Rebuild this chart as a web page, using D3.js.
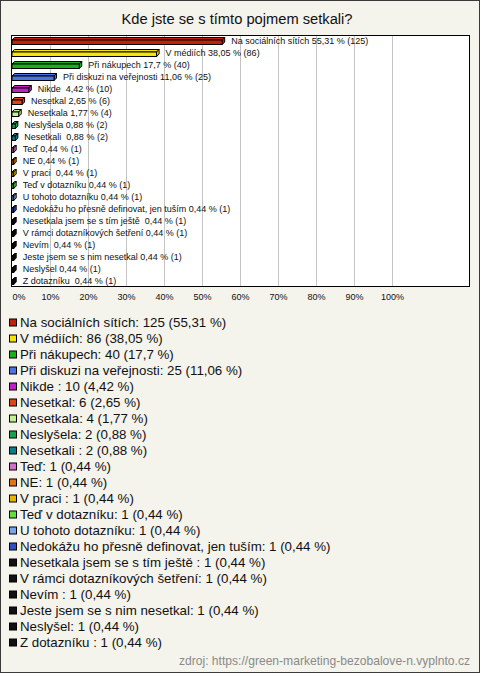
<!DOCTYPE html>
<html><head><meta charset="utf-8">
<script src="https://cdn.jsdelivr.net/npm/d3@7"></script>
<style>body{margin:0;background:#fff}svg{display:block}text{white-space:pre}</style>
</head><body>
<script>
const title = "Kde jste se s tímto pojmem setkali?";
const categories = ["Na sociálních sítích","V médiích","Při nákupech","Při diskuzi na veřejnosti","Nikde ","Nesetkal","Nesetkala","Neslyšela","Nesetkali ","Teď","NE","V praci ","Teď v dotazníku","U tohoto dotazníku","Nedokážu ho přesně definovat, jen tuším","Nesetkala jsem se s tím ještě ","V rámci dotazníkových šetření","Nevím ","Jeste jsem se s nim nesetkal","Neslyšel","Z dotazníku "];
const counts = [125,86,40,25,10,6,4,2,2,1,1,1,1,1,1,1,1,1,1,1,1];
const percents = [55.31,38.05,17.7,11.06,4.42,2.65,1.77,0.88,0.88,0.44,0.44,0.44,0.44,0.44,0.44,0.44,0.44,0.44,0.44,0.44,0.44];
const colors = ["#c0200c","#f8e400","#18b018","#4a74e0","#c020c8","#e04414","#c4f094","#18a050","#107c88","#d070c8","#e07418","#e8b400","#60e040","#78a4e8","#3050c0","#111","#111","#111","#111","#111","#111"];
const xTicks = [0,10,20,30,40,50,60,70,80,90,100];
const source = "zdroj: https://green-marketing-bezobalove-n.vyplnto.cz";

const W=480,H=673;
const fmt = v => String(v).replace(".", ",");
const svg = d3.select("body").append("svg").attr("width",W).attr("height",H)
  .style("font-family","'Liberation Sans', Arial, sans-serif");
svg.append("rect").attr("x",0.5).attr("y",0.5).attr("width",W-1).attr("height",H-1)
  .attr("fill","#f4f3ec").attr("stroke","#3a3a3a");

svg.append("text").attr("x",237).attr("y",24).attr("text-anchor","middle")
  .attr("font-size",14.7).attr("fill","#111").text(title);

const x = d3.scaleLinear().domain([0,100]).range([12,392]);
const y = d3.scaleBand().domain(d3.range(categories.length)).range([35,287]);
const plotL=11, plotR=470, plotT=35, plotB=287;

svg.append("rect").attr("x",plotL+0.5).attr("y",plotT+0.5).attr("width",plotR-plotL-1).attr("height",plotB-plotT-1)
  .attr("fill","#fff");
svg.append("g").selectAll("line").data(xTicks.filter(t=>t>0)).join("line")
  .attr("x1",d=>Math.round(x(d))+0.5).attr("x2",d=>Math.round(x(d))+0.5)
  .attr("y1",plotT).attr("y2",plotB).attr("stroke","#c4c4c4");
svg.append("rect").attr("x",plotL+0.5).attr("y",plotT+0.5).attr("width",plotR-plotL-1).attr("height",plotB-plotT-1)
  .attr("fill","none").attr("stroke","#000");

const dep=2.5;
const bars = svg.append("g").selectAll("g").data(percents).join("g");
bars.each(function(v,i){
  const g=d3.select(this);
  const c=y(i)+y.bandwidth()/2;
  const x0=x(0), x1=x(v);
  const top=c-1, bot=c+3.5;
  g.append("path").attr("d",`M${x0},${top}L${x0+dep},${top-dep}L${x1+dep},${top-dep}L${x1},${top}Z`)
    .attr("fill",colors[i]).attr("stroke","#000").attr("stroke-width",1);
  g.append("path").attr("d",`M${x1},${top}L${x1+dep},${top-dep}L${x1+dep},${bot-dep}L${x1},${bot}Z`)
    .attr("fill",colors[i]).attr("stroke","#000").attr("stroke-width",1);
  g.append("rect").attr("x",x0).attr("y",top).attr("width",x1-x0).attr("height",bot-top)
    .attr("fill",colors[i]).attr("stroke","#000").attr("stroke-width",1);
  g.append("text").attr("x",x1+9).attr("y",c+3.2).attr("font-size",9).attr("fill","#111")
    .text(`${categories[i]} ${fmt(v)} % (${counts[i]})`);
});

const ax = d3.axisBottom(x).tickValues(xTicks).tickFormat(d=>d+"%").tickSize(0).tickPadding(0);
const axg = svg.append("g").attr("transform",`translate(0,${295})`).call(ax);
axg.select(".domain").remove();
axg.selectAll("text").attr("font-size",9).attr("fill","#111").attr("dy","0.5em")
  .style("font-family","'Liberation Sans', Arial, sans-serif")
  .attr("text-anchor",d=>d===0?"start":"middle");

const leg = svg.append("g").selectAll("g").data(categories).join("g")
  .attr("transform",(d,i)=>`translate(0,${322.5+16*i})`);
leg.append("rect").attr("x",9.5).attr("y",-3.5).attr("width",7).attr("height",7)
  .attr("fill",(d,i)=>colors[i]).attr("stroke","#000");
leg.append("text").attr("x",20).attr("y",4.3).attr("font-size",13.3).attr("fill","#111")
  .text((d,i)=>`${d}: ${counts[i]} (${fmt(percents[i])} %)`);

svg.append("text").attr("x",470).attr("y",665).attr("text-anchor","end").attr("font-size",12.1)
  .attr("fill","#8a8a8a").text(source);
</script>
</body></html>
